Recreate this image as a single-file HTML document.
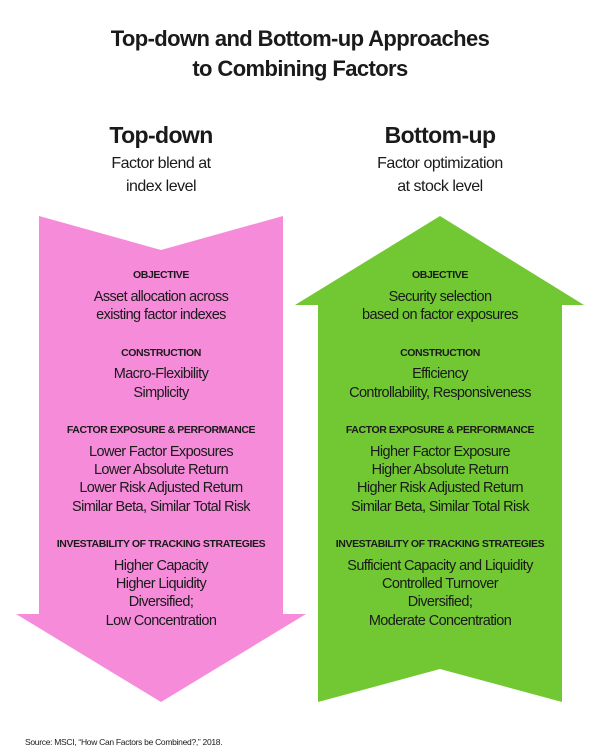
<!DOCTYPE html>
<html><head><meta charset="utf-8"><style>
html,body{margin:0;padding:0;background:#fff}
svg{display:block}
text{font-family:"Liberation Sans",sans-serif;fill:#1a1a1a}
.t{font-size:22px;font-weight:bold;letter-spacing:-0.6px}
.h{font-size:23px;font-weight:bold;letter-spacing:-0.6px}
.s{font-size:16px;letter-spacing:-0.5px}
.l{font-size:10.5px;font-weight:bold;letter-spacing:-0.4px}
.b{font-size:14.5px;letter-spacing:-0.6px}
.src{font-size:8.5px;letter-spacing:-0.3px}
</style></head><body>
<svg width="600" height="754" viewBox="0 0 600 754">
<polygon points="39,216 161,250 283,216 283,614 306,614 161,702 16,614 39,614" fill="#f68bda"/>
<polygon points="440,216 584,305 562,305 562,702 440,669 318,702 318,305 295,305" fill="#72c832"/>
<g text-anchor="middle">
<text class="t" x="300" y="46">Top-down and Bottom-up Approaches</text>
<text class="t" x="300" y="76">to Combining Factors</text>
<text class="h" x="161" y="143">Top-down</text>
<text class="s" x="161" y="168">Factor blend at</text>
<text class="s" x="161" y="191">index level</text>
<text class="h" x="440" y="143">Bottom-up</text>
<text class="s" x="440" y="168">Factor optimization</text>
<text class="s" x="440" y="191">at stock level</text>

<text class="l" x="161" y="278">OBJECTIVE</text>
<text class="b" x="161" y="301">Asset allocation across</text>
<text class="b" x="161" y="319">existing factor indexes</text>
<text class="l" x="161" y="356">CONSTRUCTION</text>
<text class="b" x="161" y="378">Macro-Flexibility</text>
<text class="b" x="161" y="397">Simplicity</text>
<text class="l" x="161" y="433">FACTOR EXPOSURE &amp; PERFORMANCE</text>
<text class="b" x="161" y="456">Lower Factor Exposures</text>
<text class="b" x="161" y="474">Lower Absolute Return</text>
<text class="b" x="161" y="492">Lower Risk Adjusted Return</text>
<text class="b" x="161" y="511">Similar Beta, Similar Total Risk</text>
<text class="l" x="161" y="547">INVESTABILITY OF TRACKING STRATEGIES</text>
<text class="b" x="161" y="570">Higher Capacity</text>
<text class="b" x="161" y="588">Higher Liquidity</text>
<text class="b" x="161" y="606">Diversified;</text>
<text class="b" x="161" y="625">Low Concentration</text>

<text class="l" x="440" y="278">OBJECTIVE</text>
<text class="b" x="440" y="301">Security selection</text>
<text class="b" x="440" y="319">based on factor exposures</text>
<text class="l" x="440" y="356">CONSTRUCTION</text>
<text class="b" x="440" y="378">Efficiency</text>
<text class="b" x="440" y="397">Controllability, Responsiveness</text>
<text class="l" x="440" y="433">FACTOR EXPOSURE &amp; PERFORMANCE</text>
<text class="b" x="440" y="456">Higher Factor Exposure</text>
<text class="b" x="440" y="474">Higher Absolute Return</text>
<text class="b" x="440" y="492">Higher Risk Adjusted Return</text>
<text class="b" x="440" y="511">Similar Beta, Similar Total Risk</text>
<text class="l" x="440" y="547">INVESTABILITY OF TRACKING STRATEGIES</text>
<text class="b" x="440" y="570">Sufficient Capacity and Liquidity</text>
<text class="b" x="440" y="588">Controlled Turnover</text>
<text class="b" x="440" y="606">Diversified;</text>
<text class="b" x="440" y="625">Moderate Concentration</text>
</g>
<text class="src" x="25" y="745">Source: MSCI, “How Can Factors be Combined?,” 2018.</text>
</svg>
</body></html>
